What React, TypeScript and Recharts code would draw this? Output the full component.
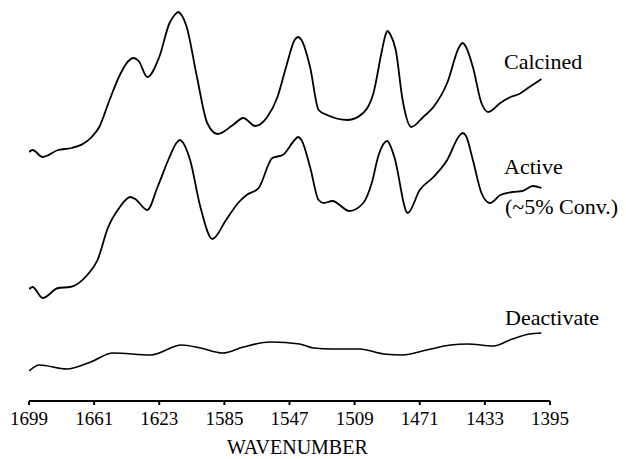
import { LineChart, Line, XAxis, YAxis } from 'recharts';

// wavenumber (cm-1) and relative absorbance (a.u.)
const calcinedWn = [1699, 1697, 1691, 1682, 1674, 1663, 1658, 1652, 1646, 1641, 1638, 1635, 1630, 1623, 1617, 1614, 1612, 1610, 1607, 1601, 1595, 1589, 1580, 1574, 1567, 1560, 1554, 1549, 1544, 1542, 1540, 1535, 1530, 1525, 1513, 1504, 1498, 1493, 1491, 1490, 1488, 1485, 1481, 1476, 1469, 1463, 1455, 1448, 1446, 1444, 1440, 1435, 1431, 1424, 1418, 1413, 1407, 1400];
const calcinedAbs = [249, 251, 244, 251, 253, 263, 274, 301, 326, 340, 343, 340, 324, 344, 378, 386, 389, 386, 374, 324, 278, 267, 276, 283, 275, 284, 304, 334, 361, 364, 361, 334, 291, 286, 281, 288, 308, 351, 366, 370, 366, 351, 301, 274, 284, 294, 318, 354, 358, 354, 334, 298, 289, 298, 304, 307, 314, 322];

const activeWn = [1699, 1697, 1691, 1682, 1675, 1665, 1659, 1653, 1646, 1642, 1640, 1637, 1630, 1624, 1617, 1613, 1611, 1609, 1605, 1599, 1592, 1584, 1577, 1572, 1565, 1557, 1551, 1544, 1542, 1540, 1535, 1530, 1527, 1522, 1512, 1504, 1499, 1495, 1490, 1486, 1478, 1471, 1463, 1455, 1448, 1446, 1444, 1440, 1435, 1430, 1424, 1417, 1411, 1405, 1400];
const activeAbs = [112, 114, 103, 113, 114, 126, 141, 173, 194, 202, 204, 202, 191, 214, 244, 258, 261, 258, 241, 194, 162, 181, 198, 206, 213, 243, 246, 261, 264, 261, 234, 201, 198, 200, 190, 198, 218, 246, 260, 245, 188, 211, 224, 241, 265, 268, 265, 241, 208, 198, 206, 209, 210, 215, 213];

const deactWn = [1699, 1693, 1677, 1663, 1650, 1628, 1610, 1599, 1586, 1574, 1558, 1541, 1533, 1522, 1506, 1492, 1481, 1467, 1453, 1443, 1428, 1417, 1407, 1400];
const deactAbs = [30, 36, 32, 39, 48, 46, 56, 53, 48, 54, 59, 57, 53, 52, 52, 47, 46, 51, 56, 57, 55, 62, 67, 68];

const wnTicks = [1699, 1661, 1623, 1585, 1547, 1509, 1471, 1433, 1395];

const toRows = (wn: number[], abs: number[]) => wn.map((w, i) => ({ wn: w, abs: abs[i] }));

const calcined = toRows(calcinedWn, calcinedAbs);
const active = toRows(activeWn, activeAbs);
const deactivated = toRows(deactWn, deactAbs);

const serif = '"Liberation Serif", "Times New Roman", serif';

export default function App() {
    return (
        <div style={{ position: 'absolute', left: 0, top: 0, width: 626, height: 459, background: '#fff' }}>
            <LineChart
                width={626}
                height={459}
                margin={{ top: 0, right: 76, bottom: 28, left: 29 }}
            >
                <XAxis
                    type="number"
                    dataKey="wn"
                    domain={[1395, 1699]}
                    reversed
                    ticks={wnTicks}
                    interval={0}
                    height={30}
                    tickSize={4}
                    tickMargin={7}
                    stroke="#000"
                    strokeWidth={2}
                    tick={{ fill: '#000', fontSize: 19, fontFamily: serif }}
                    allowDataOverflow
                />
                <YAxis type="number" domain={[0, 401]} hide />
                <Line data={calcined} dataKey="abs" type="monotone" stroke="#000" strokeWidth={1.8} dot={false} isAnimationActive={false} />
                <Line data={active} dataKey="abs" type="monotone" stroke="#000" strokeWidth={1.8} dot={false} isAnimationActive={false} />
                <Line data={deactivated} dataKey="abs" type="monotone" stroke="#000" strokeWidth={1.6} dot={false} isAnimationActive={false} />
            </LineChart>
            <svg width={626} height={459} style={{ position: 'absolute', left: 0, top: 0, pointerEvents: 'none' }}>
                <g fontFamily={serif} fill="#000" fontSize={22}>
                    <text x={504} y={69}>Calcined</text>
                    <text x={504} y={174}>Active</text>
                    <text x={505} y={214}>(~5% Conv.)</text>
                    <text x={505} y={325}>Deactivate</text>
                    <text x={227} y={454} fontSize={20}>WAVENUMBER</text>
                </g>
            </svg>
        </div>
    );
}
